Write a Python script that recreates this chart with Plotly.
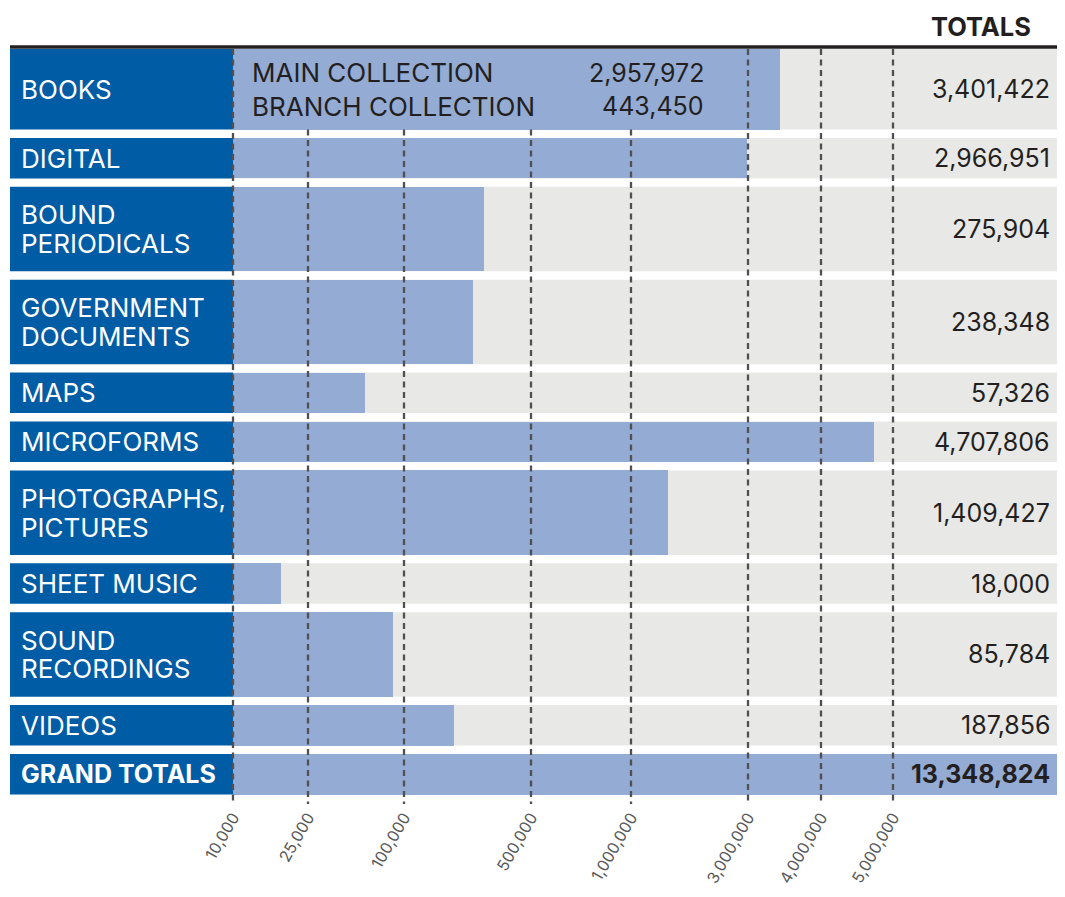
import numpy as np
import plotly.graph_objects as go

# ---------------- data ----------------
CATEGORIES = ["BOOKS", "DIGITAL", "BOUND<br>PERIODICALS", "GOVERNMENT<br>DOCUMENTS", "MAPS",
              "MICROFORMS", "PHOTOGRAPHS,<br>PICTURES", "SHEET MUSIC", "SOUND<br>RECORDINGS",
              "VIDEOS", "GRAND TOTALS"]
TOTALS = [3401422, 2966951, 275904, 238348, 57326, 4707806, 1409427, 18000, 85784, 187856, 13348824]
BOOK_PARTS = ["MAIN COLLECTION", "BRANCH COLLECTION"]
BOOK_PART_VALUES = [2957972, 443450]
TICK_VALUES = [10000, 25000, 100000, 500000, 1000000, 3000000, 4000000, 5000000]
TICK_LABELS = ["10,000", "25,000", "100,000", "500,000", "1,000,000", "3,000,000", "4,000,000", "5,000,000"]

# ---------------- layout constants ----------------
W, H = 1065, 897
PAGE_OFFSET = 8                        # default body margin of the html page
PLOT_BOTTOM = 804                      # pixel row where the plotting area ends
# custom (hand-drawn) value scale: axis position of every tick
TICK_POS = [233, 308, 404, 531, 631, 748, 821, 893]
ROW_HEIGHTS = [80.5, 40.5, 84.5, 84.5, 40.5, 40.5, 84.5, 40.5, 84.5, 40.5, 40.5]
ROW_TOP, ROW_GAP = 49, 8.4
LABEL_LEFT, LABEL_RIGHT = 10, 233
LINE_PITCH = 28.7

DARK_BLUE = "#005CA5"
LIGHT_BLUE = "#94ABD4"
GREY = "#E8E8E6"
INK = "#231F20"
GRID = "#505052"
FONT = "Inter"


def scale(v):
    """Piecewise log scale through the tick anchors (extrapolates past the ends)."""
    lv = np.log10(np.asarray(v, dtype=float))
    lt = np.log10(TICK_VALUES)
    out = np.interp(lv, lt, TICK_POS)
    slope = (TICK_POS[-1] - TICK_POS[-2]) / (lt[-1] - lt[-2])
    out = np.where(lv > lt[-1], TICK_POS[-1] + (lv - lt[-1]) * slope, out)
    return out


# row geometry
tops, t = [], ROW_TOP
for h in ROW_HEIGHTS:
    tops.append(t)
    t += h + ROW_GAP
centers = [tp + h / 2 for tp, h in zip(tops, ROW_HEIGHTS)]
bottoms = [tp + h for tp, h in zip(tops, ROW_HEIGHTS)]

base = float(scale(TICK_VALUES[0]))
bar_end = scale(TOTALS)

fig = go.Figure()
fig.add_trace(go.Bar(
    orientation="h",
    y=centers,
    x=bar_end - base,
    base=base,
    width=ROW_HEIGHTS,
    marker=dict(color=LIGHT_BLUE, line=dict(width=0)),
    hoverinfo="skip",
    showlegend=False,
))

shapes = []
annotations = []
for i, cat in enumerate(CATEGORIES):
    # grey band and dark label box
    shapes.append(dict(type="rect", xref="x", yref="y", x0=LABEL_RIGHT, x1=W + 5,
                       y0=tops[i], y1=bottoms[i], fillcolor=GREY, line_width=0, layer="below"))
    shapes.append(dict(type="rect", xref="x", yref="y", x0=LABEL_LEFT, x1=LABEL_RIGHT,
                       y0=tops[i], y1=bottoms[i], fillcolor=DARK_BLUE, line_width=0, layer="below"))
    bold = (i == len(CATEGORIES) - 1)
    lines = cat.split("<br>")
    n = len(lines)
    for k, ln in enumerate(lines):
        yk = centers[i] + (k - (n - 1) / 2) * LINE_PITCH
        txt = f"<b>{ln}</b>" if bold else ln
        annotations.append(dict(x=19, y=yk, xref="x", yref="y", text=txt, showarrow=False,
                                xanchor="left", yanchor="middle",
                                font=dict(family=FONT, size=25 if bold else 26, color="white")))
    tot = f"{TOTALS[i]:,}"
    annotations.append(dict(x=1052, y=centers[i], xref="x", yref="y",
                            text=f"<b>{tot}</b>" if bold else tot, showarrow=False,
                            xanchor="right", yanchor="middle",
                            font=dict(family=FONT, size=25, color=INK)))

# books breakdown
BOOK_PITCH = 33.5
for k, (lab, val) in enumerate(zip(BOOK_PARTS, BOOK_PART_VALUES)):
    yk = centers[0] + (k - 0.5) * BOOK_PITCH
    annotations.append(dict(x=250, y=yk, xref="x", yref="y", text=lab, showarrow=False,
                            xanchor="left", yanchor="middle",
                            font=dict(family=FONT, size=26, color=INK)))
    annotations.append(dict(x=706, y=yk, xref="x", yref="y", text=f"{val:,}", showarrow=False,
                            xanchor="right", yanchor="middle",
                            font=dict(family=FONT, size=25, color=INK)))

# header
annotations.append(dict(x=1033, y=26.7, xref="x", yref="y", text="<b>TOTALS</b>", showarrow=False,
                        xanchor="right", yanchor="middle",
                        font=dict(family=FONT, size=25.5, color=INK)))

# top rule
shapes.append(dict(type="line", xref="x", yref="y", x0=LABEL_LEFT, x1=W + 5, y0=47, y1=47,
                   line=dict(color=INK, width=3.5), layer="above"))

# dashed gridlines (hidden behind the books breakdown text)
TEXT_SPAN = (245, 715)
tick_pos = scale(TICK_VALUES)
for xp in tick_pos:
    y_start = bottoms[0] if TEXT_SPAN[0] < xp < TEXT_SPAN[1] else ROW_TOP
    shapes.append(dict(type="line", xref="x", yref="y", x0=xp, x1=xp, y0=y_start, y1=PLOT_BOTTOM,
                       line=dict(color=GRID, width=2.3, dash="6px,4.5px"), layer="above"))

# figure fills the window to its right edge; its height stays inside the page
FIG_W, FIG_H = W - PAGE_OFFSET, H - 2 * PAGE_OFFSET
fig.update_layout(
    width=FIG_W, height=FIG_H,
    margin=dict(l=0, r=0, t=0, b=FIG_H - (PLOT_BOTTOM - PAGE_OFFSET), pad=0, autoexpand=False),
    paper_bgcolor="white", plot_bgcolor="white",
    bargap=0,
    shapes=shapes,
    annotations=annotations,
    xaxis=dict(range=[PAGE_OFFSET, PAGE_OFFSET + FIG_W], tickvals=list(tick_pos), ticktext=TICK_LABELS,
               tickangle=-60, showgrid=False, zeroline=False, showline=False, ticks="",
               automargin=False,
               tickfont=dict(family=FONT, size=16, color="#58595B"), fixedrange=True),
    yaxis=dict(range=[PLOT_BOTTOM, PAGE_OFFSET], visible=False, showgrid=False, zeroline=False,
               automargin=False, fixedrange=True),
)

fig.write_html("out.html")
